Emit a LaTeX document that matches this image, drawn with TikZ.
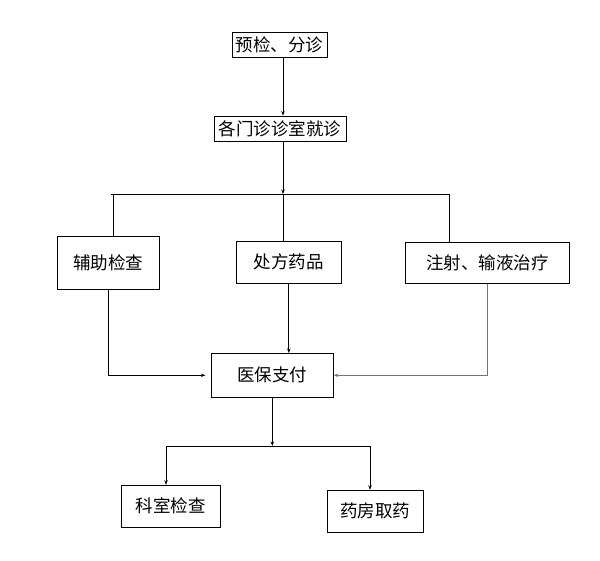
\documentclass[tikz,border=0pt]{standalone}
\usepackage{fontspec}
\newfontfamily\cjk{Noto Sans CJK SC}
\usetikzlibrary{arrows.meta}

\begin{document}
\begin{tikzpicture}[x=1pt,y=-1pt,
    box/.style={draw,line width=0.8pt,inner sep=0pt,font=\cjk\fontsize{17.5}{19}\selectfont},
    link/.style={line width=0.8pt},
    flow/.style={link,-{Stealth[length=4.5pt,width=3.5pt]}}]
    \useasboundingbox (0,0) rectangle (600,561);

    \node[box,minimum width=95pt,minimum height=25pt] (pre) at (279.5,44.5) {预检、分诊};
    \node[box,minimum width=132pt,minimum height=25pt] (clinic) at (280,128.5) {各门诊诊室就诊};
    \node[box,minimum width=102pt,minimum height=53pt] (aux) at (108.3,262.7) {辅助检查};
    \node[box,minimum width=105pt,minimum height=42pt] (rx) at (288.8,262.3) {处方药品};
    \node[box,minimum width=164pt,minimum height=41pt] (inj) at (487.3,262.8) {注射、输液治疗};
    \node[box,minimum width=122pt,minimum height=44pt] (pay) at (272.3,375.3) {医保支付};
    \node[box,minimum width=99pt,minimum height=42pt] (lab) at (170.8,506.2) {科室检查};
    \node[box,minimum width=96pt,minimum height=42pt] (pharm) at (375.3,511.2) {药房取药};

    % upper fork
    \coordinate (trunk) at (283,194);
    \coordinate (barL) at (111,194);
    \coordinate (barR) at (449,194);
    \coordinate (b1) at (113,194);

    \draw[flow] (trunk |- pre.south) -- (trunk |- clinic.north);
    \draw[flow] (trunk |- clinic.south) -- (trunk);
    \draw[link] (barL) -- (barR);
    \draw[link] (b1) -- (b1 |- aux.north);
    \draw[link] (trunk) -- (trunk |- rx.north);
    \draw[link] (barR) -- (barR |- inj.north);

    % into payment
    \draw[flow,shorten >=5.5pt] (aux.south) |- (pay.west);
    \draw[flow] (rx.south) -- (rx.south |- pay.north);
    \draw[flow,draw=black!55,line width=1pt] (inj.south) |- (pay.east);

    % lower fork
    \coordinate (fork) at (272.3,446);
    \coordinate (lb) at (166,446);
    \coordinate (rb) at (370,446);
    \draw[flow] (pay.south) -- (fork);
    \draw[link] (lb) -- (rb);
    \draw[flow] (lb) -- (lb |- lab.north);
    \draw[flow] (rb) -- (rb |- pharm.north);
\end{tikzpicture}
\end{document}
